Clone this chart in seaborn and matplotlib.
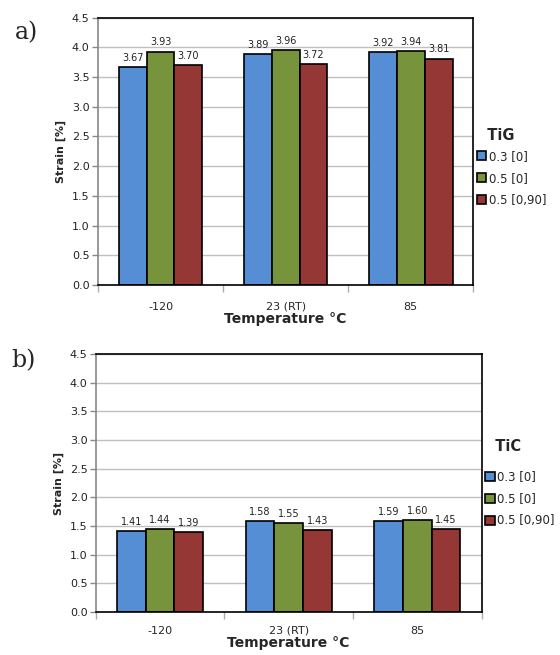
import matplotlib
matplotlib.use("Agg")
import matplotlib.pyplot as plt
import seaborn as sns
import pandas as pd
import numpy as np

categories = ["-120", "23 (RT)", "85"]
series = ["0.3 [0]", "0.5 [0]", "0.5 [0,90]"]
tig_03_0 = [3.67, 3.89, 3.92]
tig_05_0 = [3.93, 3.96, 3.94]
tig_05_090 = [3.70, 3.72, 3.81]
tic_03_0 = [1.41, 1.58, 1.59]
tic_05_0 = [1.44, 1.55, 1.60]
tic_05_090 = [1.39, 1.43, 1.45]
yticks = [0.0, 0.5, 1.0, 1.5, 2.0, 2.5, 3.0, 3.5, 4.0, 4.5]

colors = ["#558ED5", "#77933C", "#953735"]

sns.set_theme(style="white")
plt.rcParams['font.family'] = ['DejaVu Sans']

fig = plt.figure(figsize=(5.6, 6.55), dpi=100)
ax1 = fig.add_axes([0.175, 0.565, 0.67, 0.408])
ax2 = fig.add_axes([0.171, 0.0656, 0.689, 0.394])


def make_df(a, b, c):
    rows = []
    for s, vals in zip(series, [a, b, c]):
        for cat, v in zip(categories, vals):
            rows.append({"Temperature": cat, "Series": s, "Strain": v})
    return pd.DataFrame(rows)


def draw(ax, df, title, leg_y, xpad, xlabelpad, title_spacing):
    sns.barplot(data=df, x="Temperature", y="Strain", hue="Series",
                order=categories, hue_order=series, palette=colors,
                width=0.67, edgecolor="black", linewidth=1.2, ax=ax,
                saturation=1, errorbar=None)
    ax.set_ylim(0, 4.5)
    ax.set_xlim(-0.5, 2.5)
    ax.set_yticks(yticks)
    ax.set_yticklabels([f"{t:.1f}" for t in yticks], fontsize=8, color="#222222")
    ax.tick_params(axis="x", labelsize=8, length=0, pad=xpad)
    ax.tick_params(axis="y", length=4, width=1, color="#888888", direction="out", left=True, pad=2)
    ax.set_xticks([-0.5, 0.5, 1.5, 2.5], minor=True)
    ax.tick_params(axis="x", which="minor", length=5, color="#aaaaaa", direction="out", bottom=True)
    ax.yaxis.grid(True, color="#c0c0c0", linewidth=1)
    ax.set_axisbelow(True)
    for c in ax.containers:
        ax.bar_label(c, fmt="%.2f", fontsize=7, padding=3, color="#222222")
    ax.set_xlabel("Temperature °C", fontsize=10, fontweight="bold", labelpad=xlabelpad)
    ax.set_ylabel("Strain [%]", fontsize=8, fontweight="bold", labelpad=4)
    for side in ["top", "right", "bottom"]:
        ax.spines[side].set_color("black")
        ax.spines[side].set_linewidth(1.2)
    ax.spines["left"].set_color("#888888")
    ax.spines["left"].set_linewidth(1.2)
    leg = ax.legend(loc="center left", bbox_to_anchor=(1.0, leg_y), frameon=False,
                    title="  " + title, fontsize=8.5, handlelength=0.8, handleheight=0.8,
                    handletextpad=0.2, labelspacing=0.75, borderaxespad=0.1,
                    borderpad=0.2)
    leg.get_title().set_fontweight("bold")
    leg.get_title().set_fontsize(10.5)
    leg._legend_box.sep = title_spacing
    leg._legend_box.align = "left"


draw(ax1, make_df(tig_03_0, tig_05_0, tig_05_090), "TiG", 0.44, 12, 0, 5)
draw(ax2, make_df(tic_03_0, tic_05_0, tic_05_090), "TiC", 0.5, 10, 0, 12)

fig.text(0.027, 0.94, "a)", fontsize=17, family="DejaVu Serif")
fig.text(0.02, 0.44, "b)", fontsize=17, family="DejaVu Serif")

fig.savefig("out.png", dpi=100)
